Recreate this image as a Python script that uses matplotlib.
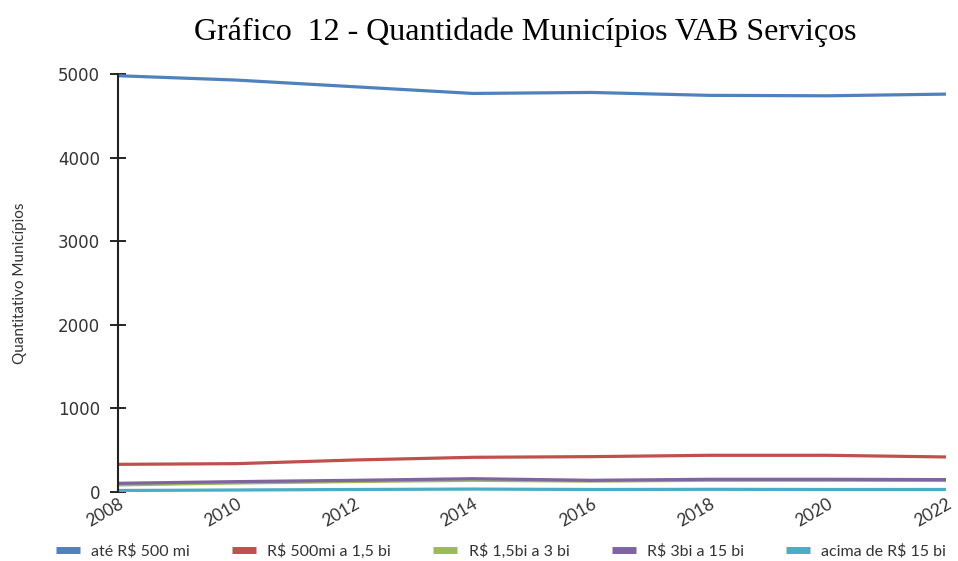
import matplotlib
matplotlib.use('Agg')
import matplotlib.pyplot as plt
from matplotlib.lines import Line2D

# dados
anos = [2008, 2010, 2012, 2014, 2016, 2018, 2020, 2022]
ate_500mi = [4980, 4928, 4848, 4768, 4780, 4745, 4740, 4760]
de_500mi_15bi = [331, 339, 383, 415, 423, 439, 439, 419]
de_15bi_3bi = [85, 108, 125, 140, 130, 140, 140, 138]
de_3bi_15bi = [104, 124, 140, 159, 140, 152, 152, 148]
acima_15bi = [18, 24, 30, 35, 30, 32, 30, 30]

series = [
    ("até R$ 500 mi", ate_500mi, "#4F81BD"),
    ("R$ 500mi a 1,5 bi", de_500mi_15bi, "#C0504D"),
    ("R$ 1,5bi a 3 bi", de_15bi_3bi, "#9BBB59"),
    ("R$ 3bi a 15 bi", de_3bi_15bi, "#8064A2"),
    ("acima de R$ 15 bi", acima_15bi, "#4BACC6"),
]

narrow = ['Lato', 'DejaVu Sans']

fig = plt.figure(figsize=(9.58, 5.61), dpi=100)
ax = fig.add_axes([0.1232, 0.123, 0.8643, 0.745])

for nome, vals, cor in series:
    ax.plot(anos, vals, color=cor, lw=2.3, solid_capstyle='butt')

ax.set_xlim(2008, 2022)
ax.set_ylim(0, 5000)
ax.set_yticks([0, 1000, 2000, 3000, 4000, 5000])
ax.set_xticks(anos)
ax.set_xticklabels([str(a) for a in anos], rotation=30, ha='right',
                   rotation_mode='anchor', family=narrow, fontsize=12.5,
                   color='#333333')
ax.tick_params(axis='x', length=0, pad=3)
ax.tick_params(axis='y', direction='inout', length=12, width=1.2,
               labelsize=12, labelcolor='#333333', pad=7)
for s in ['top', 'right', 'bottom']:
    ax.spines[s].set_visible(False)
ax.spines['left'].set_linewidth(1.5)
ax.spines['left'].set_color('#222222')

ax.set_ylabel('Quantitativo Municípios', family=narrow, fontsize=11,
              color='#333333', labelpad=22)

fig.text(0.548, 0.942, 'Gráfico  12 - Quantidade Municípios VAB Serviços',
         family='Liberation Serif', fontsize=23, ha='center', va='center')

handles = [Line2D([0], [0], color=c, lw=5, solid_capstyle='butt')
           for _, _, c in series]
fig.legend(handles, [n for n, _, _ in series], loc='center',
           bbox_to_anchor=(0.523, 0.018), ncol=5, frameon=False,
           prop={'family': narrow, 'size': 11.5}, handlelength=1.5,
           columnspacing=2.65, handletextpad=0.7, labelcolor='#333333')

fig.savefig('out.png', dpi=100)
